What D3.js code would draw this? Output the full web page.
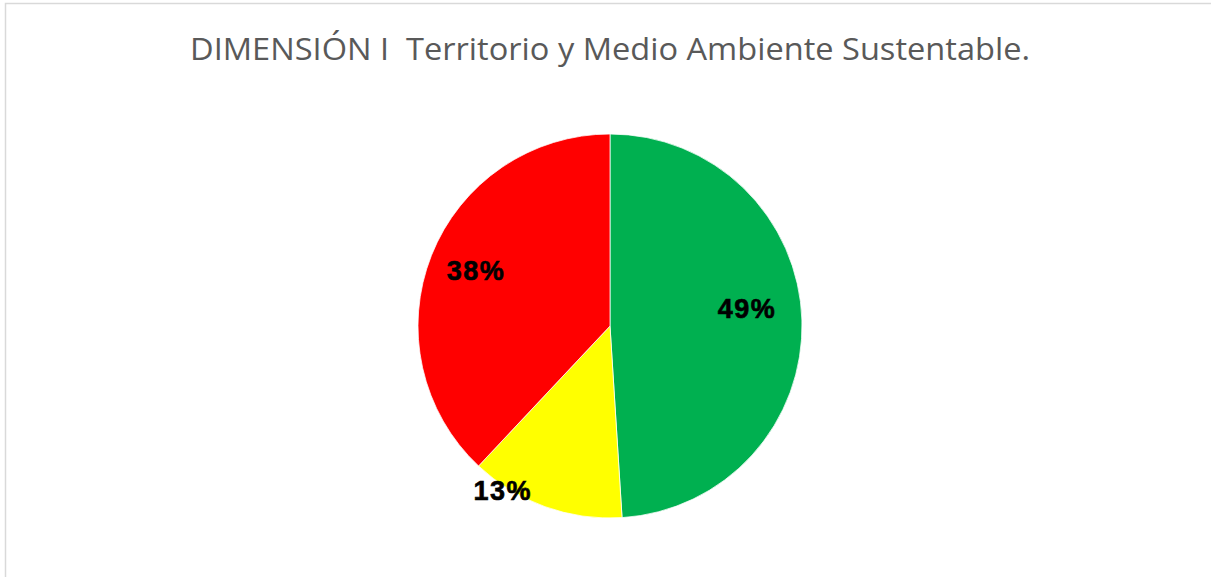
<!DOCTYPE html>
<html>
<head>
<meta charset="utf-8">
<script src="https://cdn.jsdelivr.net/npm/d3@7"></script>
<style>
  body { margin: 0; background: #fff; }
</style>
</head>
<body>
<div id="chart"></div>
<script>
// chart data
var titleText = "DIMENSIÓN I  Territorio y Medio Ambiente Sustentable.";
var categories = ["Verde", "Amarillo", "Rojo"];
var values = [49, 13, 38];
var sliceColors = ["#00B050", "#FFFF00", "#FF0000"];

var svgWidth = 1211;
var svgHeight = 577;

var pieCenter = { x: 610, y: 326 };
var radius = 192;

var svg = d3.select("#chart")
    .append("svg")
    .attr("width", svgWidth)
    .attr("height", svgHeight);

// chart area border
svg.append("rect")
    .attr("x", 5.5)
    .attr("y", 3.5)
    .attr("width", svgWidth + 10)
    .attr("height", svgHeight + 10)
    .attr("fill", "#fff")
    .attr("stroke", "#d9d9d9")
    .attr("stroke-width", 1.5);

svg.append("text")
    .text(titleText)
    .attr("x", 610)
    .attr("y", 60)
    .attr("text-anchor", "middle")
    .style("white-space", "pre")
    .attr("font-family", "'Open Sans', sans-serif")
    .attr("font-size", 31)
    .attr("fill", "#595959")
    .attr("textLength", 840)
    .attr("lengthAdjust", "spacingAndGlyphs");

var color = d3.scaleOrdinal()
    .domain(categories)
    .range(sliceColors);

var pie = d3.pie()
    .sort(null)
    .value(d => d.value);

var data = categories.map((c, i) => ({ name: c, value: values[i] }));
var arcs = pie(data);

var arc = d3.arc()
    .innerRadius(0)
    .outerRadius(radius);

var chartGroup = svg.append("g")
    .attr("transform", `translate(${pieCenter.x},${pieCenter.y})`);

chartGroup.selectAll("path")
    .data(arcs)
    .enter()
    .append("path")
    .attr("d", arc)
    .attr("fill", d => color(d.data.name))
    .attr("stroke", "#fff")
    .attr("stroke-width", 0.75);

// label placement tweaks (excel best fit)
var labelNudge = [
    { da: -5.6, rf: 0.72 },
    { da: 13.4, rf: 1.02 },
    { da: 1.1, rf: 0.757 }
];

function labelPos(d, i) {
    var a = (d.startAngle + d.endAngle) / 2 + labelNudge[i].da * Math.PI / 180;
    var r = radius * labelNudge[i].rf;
    return [Math.sin(a) * r, -Math.cos(a) * r];
}

chartGroup.selectAll("text")
    .data(arcs)
    .enter()
    .append("text")
    .text(d => d3.format(".0%")(d.value / d3.sum(values)))
    .attr("x", (d, i) => labelPos(d, i)[0])
    .attr("y", (d, i) => labelPos(d, i)[1])
    .attr("dy", "0.36em")
    .attr("text-anchor", "middle")
    .attr("font-family", "'Liberation Sans', Arial, sans-serif")
    .attr("font-weight", "bold")
    .attr("font-size", 27)
    .attr("letter-spacing", 1.5)
    .attr("stroke", "#000")
    .attr("stroke-width", 0.6)
    .attr("fill", "#000");
</script>
</body>
</html>
